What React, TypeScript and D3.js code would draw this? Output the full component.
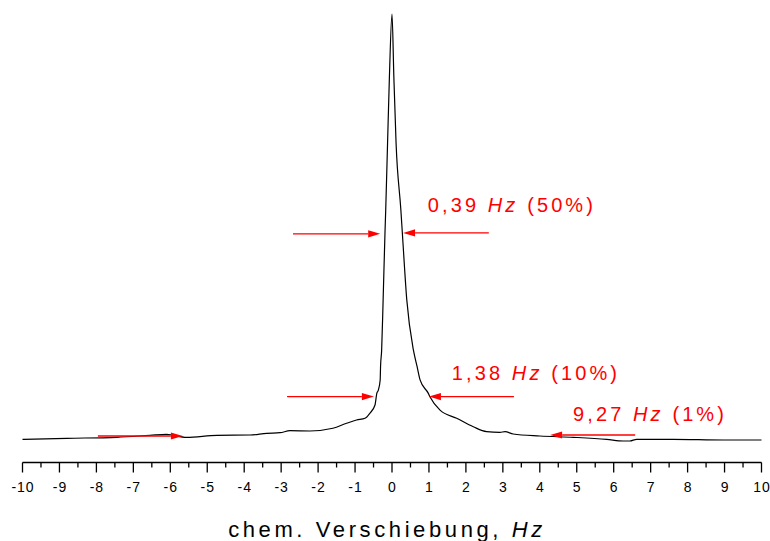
import React from "react";
import * as d3 from "d3";

const shiftHz = [-10, -8.8, -7.45, -6.55, -6.1, -5.56, -4.74, -3.84, -3.39, -3.03, -2.76, -2.22, -1.6, -1.23, -0.96, -0.73, -0.6, -0.46, -0.41, -0.37, -0.32, -0.31, -0.28, -0.24, -0.19, -0.17, -0.12, -0.07, 0, 0.05, 0.11, 0.24, 0.28, 0.4, 0.58, 0.68, 0.76, 0.98, 1.03, 1.3, 1.75, 2.2, 2.56, 2.92, 3.06, 3.28, 4.0, 4.91, 5.81, 6.26, 6.44, 6.62, 7.61, 8.97, 10];
const intensity = [0.16, 0.4, 0.63, 1.1, 1.34, 0.63, 1.1, 1.17, 1.57, 1.71, 2.18, 2.11, 2.75, 3.92, 4.69, 5.09, 6.27, 8.22, 11.0, 11.7, 14.1, 17.2, 21.1, 32.9, 48.6, 54.0, 69.7, 85.3, 100, 85.3, 69.7, 54.0, 48.6, 32.9, 21.1, 17.2, 14.1, 11.0, 10.1, 7.0, 5.1, 3.1, 1.96, 1.81, 1.96, 1.41, 0.94, 0.63, 0.16, -0.23, -0.23, 0.16, 0.16, 0, 0];

const majorTicks = [-10, -9, -8, -7, -6, -5, -4, -3, -2, -1, 0, 1, 2, 3, 4, 5, 6, 7, 8, 9, 10];
const minorTicks = [-9.5, -8.5, -7.5, -6.5, -5.5, -4.5, -3.5, -2.5, -1.5, -0.5, 0.5, 1.5, 2.5, 3.5, 4.5, 5.5, 6.5, 7.5, 8.5, 9.5];

// arrows: [fromX, toX (tip), level]
const arrowFrom = [-2.68, 2.62, -2.84, 3.3, -7.96, 6.58];
const arrowTip = [-0.32, 0.3, -0.49, 1.0, -5.66, 4.28];
const arrowLevel = [48.4, 48.6, 10.2, 10.2, 0.94, 1.17];

const labelValue = ["0,39", "1,38", "9,27"];
const labelPct = ["(50%)", "(10%)", "(1%)"];
const labelX = [0.97, 1.62, 4.9];
const labelY = [53.5, 14.1, 4.46];

export default function App() {
  const W = 770, H = 541;
  const x = d3.scaleLinear().domain([-10, 10]).range([22.5, 761.5]);
  const y = d3.scaleLinear().domain([0, 100]).range([440, 14]);
  const axisY = 462.5;
  const font = "'Liberation Sans', Arial, sans-serif";

  const pts: [number, number][] = shiftHz.map((s, i) => [s, intensity[i]]);
  const line = d3.line<[number, number]>()
    .x(d => x(d[0]))
    .y(d => y(d[1]))
    .curve(d3.curveMonotoneX);

  const red = "#ff0000";
  const headLen = 12, headHalf = 3.6;

  return (
    <svg width={W} height={H} style={{ position: "absolute", left: 0, top: 0, background: "#fff" }}>
      <rect width={W} height={H} fill="#fff" />
      <path d={line(pts) || ""} fill="none" stroke="#000" strokeWidth={1.2} strokeLinejoin="round" />

      {arrowFrom.map((f, i) => {
        const x0 = x(f), x1 = x(arrowTip[i]), yy = y(arrowLevel[i]);
        const dir = x1 > x0 ? 1 : -1;
        const base = x1 - dir * headLen;
        return (
          <g key={"a" + i}>
            <line x1={x0} y1={yy} x2={base} y2={yy} stroke={red} strokeWidth={1.3} />
            <path d={`M${x1},${yy} L${base},${yy - headHalf} L${base},${yy + headHalf} Z`} fill={red} />
          </g>
        );
      })}

      {labelValue.map((v, i) => (
        <text key={"l" + i} x={x(labelX[i])} y={y(labelY[i])} fill={red} fontFamily={font} fontSize={20} letterSpacing={3.1}>
          {v} <tspan fontStyle="italic">Hz</tspan> {labelPct[i]}
        </text>
      ))}

      <line x1={x(-10)} x2={x(10)} y1={axisY} y2={axisY} stroke="#000" strokeWidth={1.3} />
      {majorTicks.map(t => (
        <g key={"M" + t}>
          <line x1={x(t)} x2={x(t)} y1={axisY} y2={axisY + 10} stroke="#000" strokeWidth={1.3} />
          <text x={x(t) + 0.5} y={491.5} textAnchor="middle" fontFamily={font} fontSize={14} letterSpacing={1}>{t}</text>
        </g>
      ))}
      {minorTicks.map(t => (
        <line key={"m" + t} x1={x(t)} x2={x(t)} y1={axisY} y2={axisY + 5} stroke="#000" strokeWidth={1.3} />
      ))}
      <text x={x(0) - 5} y={536.5} textAnchor="middle" fontFamily={font} fontSize={22} letterSpacing={3.6}>
        chem. Verschiebung, <tspan fontStyle="italic">Hz</tspan>
      </text>
    </svg>
  );
}
